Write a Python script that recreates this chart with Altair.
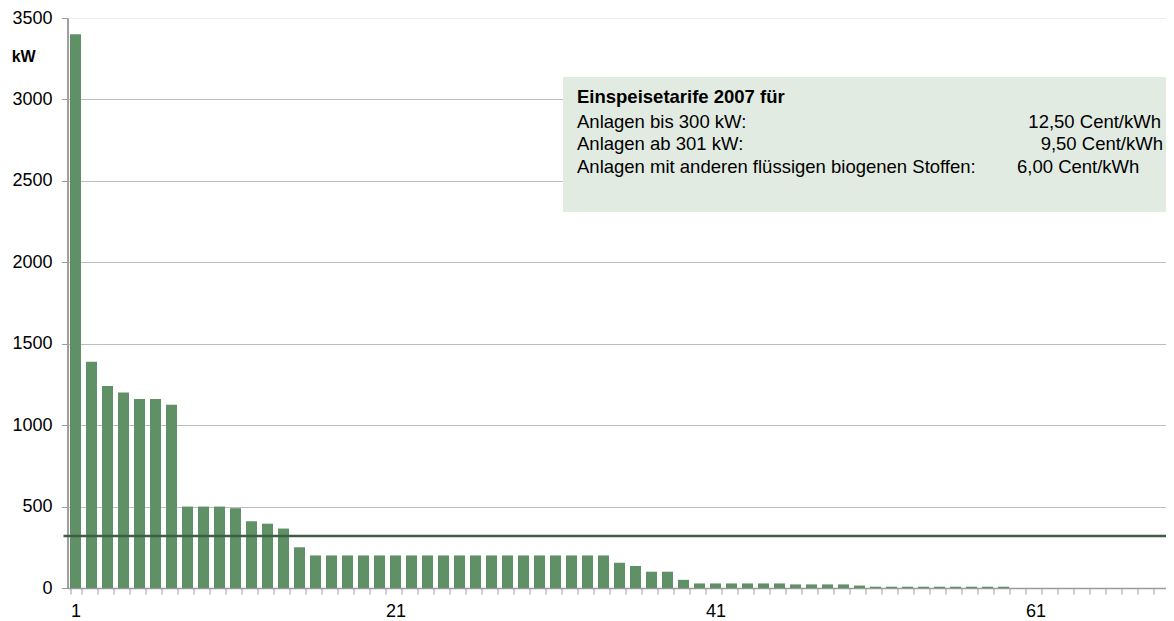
import altair as alt
import pandas as pd

# ---- data ----
anlage = list(range(1, 70))
leistung_kw = [
    3400, 1390, 1240, 1200, 1160, 1160, 1125, 500, 500, 500,
    490, 410, 395, 365, 250, 200, 200, 200, 200, 200,
    200, 200, 200, 200, 200, 200, 200, 200, 200, 200,
    200, 200, 200, 200, 155, 135, 100, 100, 50, 28,
    28, 28, 28, 28, 28, 22, 22, 22, 22, 15,
    8, 8, 8, 8, 8, 8, 8, 8, 8, 0,
    0, 0, 0, 0, 0, 0, 0, 0, 0,
]
x_labels_shown = [1, 21, 41, 61]
y_ticks = [0, 500, 1000, 1500, 2000, 2500, 3000, 3500]
grenzlinie_kw = [320]

box_title = "Einspeisetarife 2007 für"
box_left = ["Anlagen bis 300 kW:", "Anlagen ab 301 kW:",
            "Anlagen mit anderen flüssigen biogenen Stoffen:"]
box_right = ["12,50 Cent/kWh", "9,50 Cent/kWh", "6,00 Cent/kWh"]
y_unit = "kW"

df = pd.DataFrame({"n": anlage, "kw": leistung_kw})
df_line = pd.DataFrame({"kw": grenzlinie_kw})

FONT = "Liberation Sans"
W, H = 1098.5, 570     # visible view width (page is 1174 wide)
XRANGE = 1104           # 69 bands x 16 px, runs past the right edge like the original
BAR = "#5f9066"

label_expr = "indexof([" + ",".join(str(v) for v in x_labels_shown) + "], datum.value) >= 0 ? datum.label : ''"

bars = alt.Chart(df).mark_bar(color=BAR).encode(
    x=alt.X("n:O", title=None,
            scale=alt.Scale(paddingInner=0.3125, paddingOuter=0.15625, range=[0, XRANGE]),
            axis=alt.Axis(labelAngle=0, labelExpr=label_expr, tickBand="extent",
                          labelFontSize=18, labelFont=FONT, labelColor="#000000",
                          labelPadding=8.5, tickSize=6, tickColor="#9a9a9a",
                          domainColor="#9a9a9a", domainWidth=1.5, grid=False,
                          labelOverlap=False)),
    y=alt.Y("kw:Q", title=None,
            scale=alt.Scale(domain=[0, 3500], nice=False),
            axis=alt.Axis(values=y_ticks, format="d", labelFontSize=18, labelFont=FONT,
                          labelColor="#000000", labelPadding=9.5, tickSize=6,
                          tickColor="#9a9a9a", domainColor="#a0a0a0", domainWidth=2,
                          grid=True,
                          gridColor={"condition": {"test": "datum.value === 3500", "value": "#ececec"},
                                     "value": "#bdbdbd"},
                          gridWidth=1)),
)

line = alt.Chart(df_line).mark_rule(color="#3d5f41", strokeWidth=2.5).encode(
    y="kw:Q", x=alt.value(-4), x2=alt.value(W)
)

box = alt.Chart(df_line).mark_rect(color="#e2ebe2").encode(
    x=alt.value(495.5), x2=alt.value(1102.5), y=alt.value(59), y2=alt.value(194)
)

def txt(s, x, y, align="left", bold=False, size=18.5):
    return alt.Chart(df_line).mark_text(
        text=s, align=align, baseline="middle", font=FONT, fontSize=size,
        fontWeight="bold" if bold else "normal", color="#000000"
    ).encode(x=alt.value(x), y=alt.value(y))

rows_y = [103.5, 126, 148.5]
texts = [txt(box_title, 509.5, 79, bold=True)]
for s, yy in zip(box_left, rows_y):
    texts.append(txt(s, 509.5, yy))
texts.append(txt(box_right[0], 1093.5, rows_y[0], align="right"))
texts.append(txt(box_right[1], 1095.5, rows_y[1], align="right"))
texts.append(txt(box_right[2], 949.5, rows_y[2], align="left"))

unit = txt(y_unit, -55.8, 39, bold=True, size=16)

chart = alt.layer(bars, line, box, *texts, unit).properties(
    width=W, height=H,
    autosize=alt.AutoSizeParams(type="none"),
    padding={"left": 59.5, "top": 10, "right": 0, "bottom": 34},
).configure_view(stroke=None).configure(background="#ffffff")

chart.save("out.html", embed_options={"renderer": "svg", "actions": False})
